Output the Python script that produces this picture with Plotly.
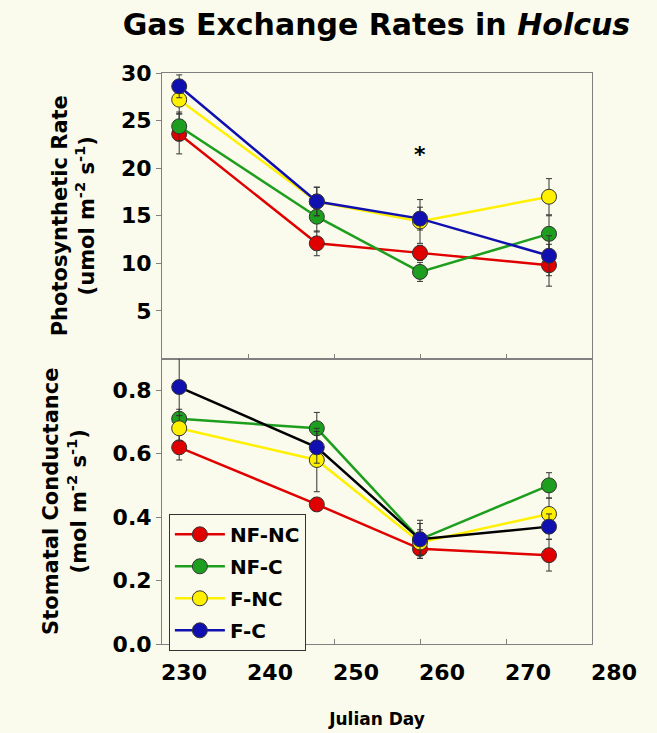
import plotly.graph_objects as go
from plotly.subplots import make_subplots

days = [232, 248, 260, 275]
series = ["NF-NC", "NF-C", "F-NC", "F-C"]

photo_nf_nc = [23.6, 12.1, 11.1, 9.8]
photo_nf_c = [24.4, 14.9, 9.1, 13.1]
photo_f_nc = [27.2, 16.5, 14.4, 17.0]
photo_f_c = [28.6, 16.5, 14.7, 10.8]

photo_err_nf_nc = [2.1, 1.3, 0.8, 2.2]
photo_err_nf_c = [1.5, 1.6, 1.0, 1.9]
photo_err_f_nc = [1.5, 1.5, 2.3, 1.9]
photo_err_f_c = [1.2, 1.5, 1.2, 2.1]

cond_nf_nc = [0.62, 0.44, 0.30, 0.28]
cond_nf_c = [0.71, 0.68, 0.33, 0.50]
cond_f_nc = [0.68, 0.58, 0.32, 0.41]
cond_f_c = [0.81, 0.62, 0.33, 0.37]

cond_err_nf_nc = [0.04, 0.02, 0.03, 0.05]
cond_err_nf_c = [0.03, 0.05, 0.05, 0.04]
cond_err_f_nc = [0.04, 0.10, 0.04, 0.05]
cond_err_f_c = [0.09, 0.05, 0.06, 0.04]

x_ticks = [230, 240, 250, 260, 270, 280]
photo_ticks = [5, 10, 15, 20, 25, 30]
cond_ticks = [0.0, 0.2, 0.4, 0.6, 0.8]

colors = ["#E00000", "#1E9E1E", "#FFF000", "#1010B0"]
cond_line_colors = ["#E00000", "#1E9E1E", "#FFF000", "#000000"]

photo = [photo_nf_nc, photo_nf_c, photo_f_nc, photo_f_c]
photo_err = [photo_err_nf_nc, photo_err_nf_c, photo_err_f_nc, photo_err_f_c]
cond = [cond_nf_nc, cond_nf_c, cond_f_nc, cond_f_c]
cond_err = [cond_err_nf_nc, cond_err_nf_c, cond_err_f_nc, cond_err_f_c]

BG = "#FAFBEC"
FONT = "DejaVu Sans"

fig = make_subplots(rows=2, cols=1, shared_xaxes=True, vertical_spacing=0)

for i, name in enumerate(series):
    fig.add_trace(go.Scatter(
        x=days, y=photo[i], name=name, mode="lines+markers", legendgroup=name,
        line=dict(color=colors[i], width=2.5),
        marker=dict(size=15, color=colors[i], line=dict(color="#333", width=1)),
        error_y=dict(type="data", array=photo_err[i], color="#333", thickness=1, width=3),
        showlegend=True, legendrank=i,
    ), row=1, col=1)

for i, name in enumerate(series):
    fig.add_trace(go.Scatter(
        x=days, y=cond[i], name=name, mode="lines+markers", legendgroup=name,
        line=dict(color=cond_line_colors[i], width=2.5),
        marker=dict(size=15, color=colors[i], line=dict(color="#333", width=1)),
        error_y=dict(type="data", array=cond_err[i], color="#333", thickness=1, width=3),
        showlegend=False,
    ), row=2, col=1)

fig.add_annotation(x=260, y=21.4, text="<b>*</b>", showarrow=False,
                   font=dict(size=22, color="black", family=FONT), xref="x", yref="y")

axis_common = dict(showline=True, mirror=True, linecolor="#808080", linewidth=1,
                   showgrid=False, zeroline=False, automargin=False)

fig.update_xaxes(range=[230, 280], tickvals=x_ticks, ticks="inside", ticklen=5,
                 tickcolor="#808080", **axis_common)
fig.update_xaxes(showticklabels=False, row=1, col=1)
fig.update_xaxes(showticklabels=True, ticklabelshift=22, ticklabelstandoff=9,
                 tickfont=dict(size=22, family=FONT, color="black", weight="bold"),
                 title=dict(text="<b>Julian Day</b>", font=dict(size=17, family=FONT, color="black"),
                            standoff=28),
                 row=2, col=1)

fig.update_yaxes(range=[0, 30], tickvals=photo_ticks, ticks="outside", ticklen=5,
                 tickcolor="#808080",
                 tickfont=dict(size=22, family=FONT, color="black", weight="bold"),
                 title=dict(text="<b>Photosynthetic Rate<br>(umol m<sup>-2</sup> s<sup>-1</sup>)</b>",
                            font=dict(size=21, family=FONT, color="black"), standoff=20),
                 row=1, col=1, **axis_common)
fig.update_yaxes(range=[0, 0.9], tickvals=cond_ticks, tickformat=".1f", ticks="outside",
                 ticklen=5, tickcolor="#808080",
                 tickfont=dict(size=22, family=FONT, color="black", weight="bold"),
                 title=dict(text="<b>Stomatal Conductance<br>(mol m<sup>-2</sup> s<sup>-1</sup>)</b>",
                            font=dict(size=21, family=FONT, color="black"), standoff=20),
                 row=2, col=1, **axis_common)

fig.update_layout(
    width=657, height=733,
    margin=dict(l=162, r=65, t=73, b=89),
    paper_bgcolor=BG, plot_bgcolor=BG,
    title=dict(text="<b>Gas Exchange Rates in <i>Holcus</i></b>",
               x=0.573, xanchor="center", y=0.966, yanchor="middle",
               font=dict(size=30, family=FONT, color="black")),
    legend=dict(x=0.016, y=0.228, xanchor="left", yanchor="top",
                bgcolor=BG, bordercolor="#333", borderwidth=1,
                font=dict(size=20, family=FONT, color="black", weight="bold"),
                tracegroupgap=3, itemwidth=50),
    showlegend=True,
)

fig.write_html("out.html")
